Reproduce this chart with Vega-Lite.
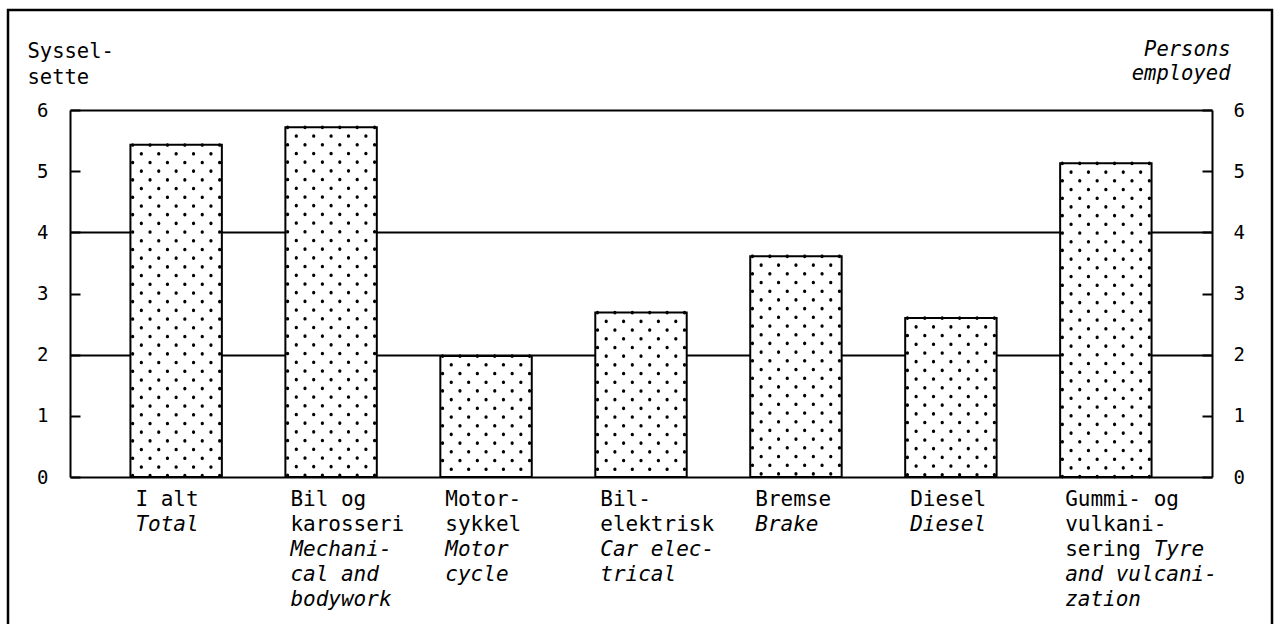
{
  "$schema": "https://vega.github.io/schema/vega-lite/v6.json",
  "width": 1264,
  "height": 614,
  "autosize": {"type": "none"},
  "padding": {"left": 8, "top": 10, "right": 5, "bottom": 0},
  "background": "white",
  "view": {"stroke": "black", "strokeWidth": 2.5, "strokeDash": [1878, 1264, 614]},
  "data": {
    "values": [
      {"cat": "I alt", "v": 5.43, "no": "I alt", "en": "\u200b\nTotal"},
      {"cat": "Bil og karosseri", "v": 5.72, "no": "Bil og\nkarosseri", "en": "\u200b\n\u200b\nMechani-\ncal and\nbodywork"},
      {"cat": "Motorsykkel", "v": 1.98, "no": "Motor-\nsykkel", "en": "\u200b\n\u200b\nMotor\ncycle"},
      {"cat": "Bilelektrisk", "v": 2.69, "no": "Bil-\nelektrisk", "en": "\u200b\n\u200b\nCar elec-\ntrical"},
      {"cat": "Bremse", "v": 3.61, "no": "Bremse", "en": "\u200b\nBrake"},
      {"cat": "Diesel", "v": 2.6, "no": "Diesel", "en": "\u200b\nDiesel"},
      {"cat": "Gummi- og vulkanisering", "v": 5.13, "no": "Gummi- og\nvulkani-\nsering", "en": "\u200b\n\u200b\n\u200b\u00a0\u00a0\u00a0\u00a0\u00a0\u00a0\u00a0Tyre\nand vulcani-\nzation"}
    ]
  },
  "encoding": {
    "x": {"field": "cat", "type": "nominal", "sort": null, "axis": null,
          "scale": {"range": [62, 1204], "paddingInner": 0.41, "paddingOuter": 0.39}},
    "y": {"field": "v", "type": "quantitative", "axis": null,
          "scale": {"domain": [0, 6], "range": [467, 100], "nice": false, "zero": true}}
  },
  "resolve": {"axis": {"y": "independent"}},
  "layer": [
    {
      "mark": {"type": "bar", "fill": "white", "stroke": "black", "strokeWidth": 2},
      "encoding": {
        "y": {"field": "v", "type": "quantitative",
              "scale": {"domain": [0, 6], "range": [467, 100], "nice": false, "zero": true},
              "axis": {
                "orient": "left", "offset": -62, "values": [0, 1, 2, 3, 4, 5, 6],
                "grid": true, "gridColor": "black", "gridWidth": 2,
                "gridOpacity": {"condition": {"test": "datum.value % 2 === 0", "value": 1}, "value": 0},
                "domain": true, "domainColor": "black", "domainWidth": 2,
                "ticks": true, "tickColor": "black", "tickWidth": 2, "tickSize": -10,
                "labelFont": "DejaVu Sans Mono", "labelFontSize": 19, "labelColor": "black", "labelPadding": 32,
                "title": ["Syssel-", "sette"], "titleFont": "DejaVu Sans Mono", "titleFontSize": 20.5,
                "titleFontWeight": "normal", "titleColor": "black", "titleAngle": 0, "titleAlign": "left",
                "titleBaseline": "alphabetic", "titleLineHeight": 26, "titleX": -43, "titleY": 47
              }}
      }
    },
    {"mark": {"type": "rule", "xOffset": -43.5, "strokeDash": [0.4, 17], "strokeDashOffset": 0, "strokeCap": "round", "strokeWidth": 3.2, "color": "black"},
     "encoding": {"y2": {"datum": 0},
       "y": {"field": "v", "type": "quantitative",
              "scale": {"domain": [0, 6], "range": [467, 100], "nice": false, "zero": true},
              "axis": {
                "orient": "right", "offset": -60, "values": [0, 1, 2, 3, 4, 5, 6], "grid": false,
                "domain": true, "domainColor": "black", "domainWidth": 2,
                "ticks": true, "tickColor": "black", "tickWidth": 2, "tickSize": -10,
                "labelFont": "DejaVu Sans Mono", "labelFontSize": 19, "labelColor": "black", "labelPadding": 31,
                "title": ["Persons", "employed"], "titleFont": "DejaVu Sans Mono", "titleFontSize": 20.5,
                "titleFontStyle": "italic",
                "titleFontWeight": "normal", "titleColor": "black", "titleAngle": 0, "titleAlign": "right",
                "titleBaseline": "alphabetic", "titleLineHeight": 24, "titleX": 18, "titleY": 45
              }}}},
    {"mark": {"type": "rule", "xOffset": -34.8, "strokeDash": [0.4, 17], "strokeDashOffset": 8.7, "strokeCap": "round", "strokeWidth": 3.2, "color": "black"},
     "encoding": {"y2": {"datum": 0}}},
    {"mark": {"type": "rule", "xOffset": -26.1, "strokeDash": [0.4, 17], "strokeDashOffset": 0, "strokeCap": "round", "strokeWidth": 3.2, "color": "black"},
     "encoding": {"y2": {"datum": 0}}},
    {"mark": {"type": "rule", "xOffset": -17.4, "strokeDash": [0.4, 17], "strokeDashOffset": 8.7, "strokeCap": "round", "strokeWidth": 3.2, "color": "black"},
     "encoding": {"y2": {"datum": 0}}},
    {"mark": {"type": "rule", "xOffset": -8.7, "strokeDash": [0.4, 17], "strokeDashOffset": 0, "strokeCap": "round", "strokeWidth": 3.2, "color": "black"},
     "encoding": {"y2": {"datum": 0}}},
    {"mark": {"type": "rule", "xOffset": 0, "strokeDash": [0.4, 17], "strokeDashOffset": 8.7, "strokeCap": "round", "strokeWidth": 3.2, "color": "black"},
     "encoding": {"y2": {"datum": 0}}},
    {"mark": {"type": "rule", "xOffset": 8.7, "strokeDash": [0.4, 17], "strokeDashOffset": 0, "strokeCap": "round", "strokeWidth": 3.2, "color": "black"},
     "encoding": {"y2": {"datum": 0}}},
    {"mark": {"type": "rule", "xOffset": 17.4, "strokeDash": [0.4, 17], "strokeDashOffset": 8.7, "strokeCap": "round", "strokeWidth": 3.2, "color": "black"},
     "encoding": {"y2": {"datum": 0}}},
    {"mark": {"type": "rule", "xOffset": 26.1, "strokeDash": [0.4, 17], "strokeDashOffset": 0, "strokeCap": "round", "strokeWidth": 3.2, "color": "black"},
     "encoding": {"y2": {"datum": 0}}},
    {"mark": {"type": "rule", "xOffset": 34.8, "strokeDash": [0.4, 17], "strokeDashOffset": 8.7, "strokeCap": "round", "strokeWidth": 3.2, "color": "black"},
     "encoding": {"y2": {"datum": 0}}},
    {"mark": {"type": "rule", "xOffset": 43.5, "strokeDash": [0.4, 17], "strokeDashOffset": 0, "strokeCap": "round", "strokeWidth": 3.2, "color": "black"},
     "encoding": {"y2": {"datum": 0}}},
    {"mark": {"type": "text", "align": "left", "baseline": "alphabetic", "dx": 5, "dy": 29, "lineHeight": 25, "lineBreak": "\n",
              "font": "DejaVu Sans Mono", "fontSize": 21, "fill": "black"},
     "encoding": {
       "x": {"field": "cat", "type": "nominal", "sort": null, "bandPosition": 0},
       "y": {"datum": 0},
       "text": {"field": "no", "type": "nominal"}
     }},
    {"mark": {"type": "text", "align": "left", "baseline": "alphabetic", "dx": 5, "dy": 29, "lineHeight": 25, "lineBreak": "\n",
              "font": "DejaVu Sans Mono", "fontSize": 21, "fontStyle": "italic", "fill": "black"},
     "encoding": {
       "x": {"field": "cat", "type": "nominal", "sort": null, "bandPosition": 0},
       "y": {"datum": 0},
       "text": {"field": "en", "type": "nominal"}
     }}
  ]
}
